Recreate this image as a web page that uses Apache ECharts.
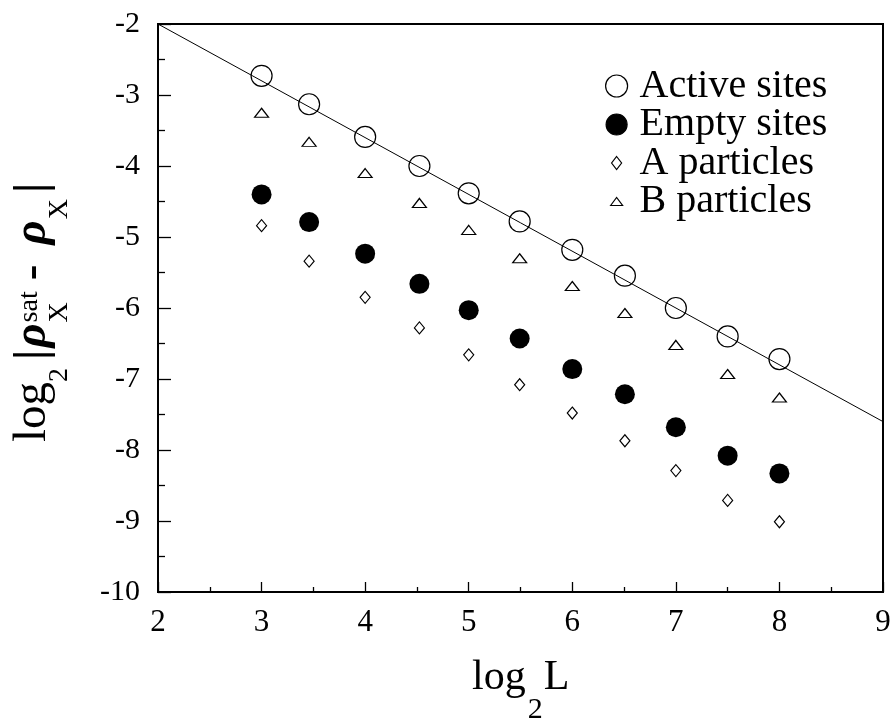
<!DOCTYPE html>
<html>
<head>
<meta charset="utf-8">
<script src="https://cdn.jsdelivr.net/npm/echarts@6/dist/echarts.min.js"></script>
<style>
html,body{margin:0;padding:0;background:#fff;}
#chart{width:896px;height:724px;}
</style>
</head>
<body>
<div id="chart"></div>
<script>
// ---- data ----
const logL        = [3, 3.459, 4, 4.524, 5, 5.492, 6, 6.508, 7, 7.5, 8];
const activeSites = [-2.73, -3.13, -3.59, -4.00, -4.385, -4.78, -5.18, -5.545, -6.00, -6.40, -6.72];
const emptySites  = [-4.40, -4.79, -5.235, -5.66, -6.03, -6.43, -6.86, -7.215, -7.68, -8.08, -8.33];
const aParticles  = [-4.84, -5.34, -5.85, -6.28, -6.66, -7.08, -7.48, -7.87, -8.29, -8.71, -9.01];
const bParticles  = [-3.25, -3.66, -4.10, -4.52, -4.90, -5.30, -5.69, -6.07, -6.52, -6.93, -7.26];
const fitLineX    = [2, 9];
const fitLineY    = [-2, -7.6];
const seriesNames = ['Active sites', 'Empty sites', 'A particles', 'B particles'];
const xRange = [2, 9];
const yRange = [-10, -2];

const FONT = '"Liberation Serif", "Times New Roman", serif';
const pairs = (xs, ys) => xs.map((x, i) => [x, ys[i]]);

// text layout helper for the axis titles (sub/superscripts)
const mctx = document.createElement('canvas').getContext('2d');
function fontStr(p){ return (p.style || '') + ' ' + p.fs + 'px ' + FONT; }
function buildTitle(pieces){
  const out = [];
  let u = 0;
  pieces.forEach(p => {
    u += (p.gap || 0);
    const f = fontStr(p);
    mctx.font = f;
    const w = mctx.measureText(p.t).width;
    out.push({
      type: 'text', x: u, y: (p.dy || 0) - 0.34 * p.fs, silent: true,
      style: { text: p.t, font: f, fill: '#000', align: 'left', textAlign: 'left',
               verticalAlign: 'middle', textVerticalAlign: 'middle' }
    });
    if (!p.stack) u += w;
  });
  return out;
}

const yTitlePieces = [
  { t: 'log', fs: 47 },
  { t: '2', fs: 28, dy: 20 },
  { t: '|', fs: 47, style: 'bold', gap: 8 },
  { t: 'ρ', fs: 47, style: 'italic bold', gap: 2 },
  { t: 'sat', fs: 28, dy: -10, stack: true, gap: 1 },
  { t: 'X', fs: 28, dy: 20 },
  { t: '-', fs: 47, style: 'bold', gap: 22 },
  { t: 'ρ', fs: 47, style: 'italic bold', gap: 20 },
  { t: 'X', fs: 28, dy: 20, gap: 1 },
  { t: '|', fs: 47, style: 'bold', gap: 6 }
];
const xTitlePieces = [
  { t: 'log', fs: 42 },
  { t: '2', fs: 30, dy: 28, gap: 2 },
  { t: 'L', fs: 42, gap: 1 }
];

const chart = echarts.init(document.getElementById('chart'), null, { renderer: 'canvas' });

const axisCommon = {
  type: 'value',
  axisLine: { show: true, onZero: false, lineStyle: { color: '#000', width: 2 } },
  splitLine: { show: false }
};

const option = {
  animation: false,
  backgroundColor: '#fff',
  grid: { left: 158, right: 13, top: 24, bottom: 132, show: true, borderColor: '#000', borderWidth: 2, backgroundColor: 'transparent' },
  xAxis: Object.assign({}, axisCommon, {
    min: xRange[0], max: xRange[1], interval: 1,
    axisTick: { inside: true, length: 10, lineStyle: { color: '#000', width: 1.3 } },
    minorTick: { show: true, splitNumber: 2, length: 5, lineStyle: { color: '#000', width: 1.3 } },
    axisLabel: { color: '#000', fontFamily: FONT, fontSize: 31, margin: 15 }
  }),
  yAxis: Object.assign({}, axisCommon, {
    min: yRange[0], max: yRange[1], interval: 1,
    axisTick: { inside: true, length: 13, lineStyle: { color: '#000', width: 1.3 } },
    minorTick: { show: true, splitNumber: 2, length: 7, lineStyle: { color: '#000', width: 1.3 } },
    axisLabel: { color: '#000', fontFamily: FONT, fontSize: 30, margin: 18 }
  }),
  legend: {
    orient: 'vertical', left: 593, top: 61, itemWidth: 36, itemHeight: 24, itemGap: -1.5,
    textStyle: { color: '#000', fontFamily: FONT, fontSize: 40, lineHeight: 30, padding: [0, 0, 8, 0] },
    itemStyle: { borderWidth: 1.2, opacity: 1 },
    data: [
      { name: seriesNames[0], icon: 'path://M0,0M36,24M7,12A11,11,0,1,1,29,12A11,11,0,1,1,7,12Z' },
      { name: seriesNames[1], icon: 'path://M0,0M36,24M7.5,12A10.5,10.5,0,1,1,28.5,12A10.5,10.5,0,1,1,7.5,12Z' },
      { name: seriesNames[2], icon: 'path://M0,0M36,24M18,5.5L23,12L18,18.5L13,12Z' },
      { name: seriesNames[3], icon: 'path://M0,0M36,24M12,16L18,8L24,16Z' }
    ]
  },
  graphic: [
    { type: 'group', x: 49, y: 442, rotation: Math.PI / 2, children: buildTitle(yTitlePieces) },
    { type: 'group', x: 472, y: 692, children: buildTitle(xTitlePieces) }
  ],
  series: [
    { type: 'line', name: 'fit', data: pairs(fitLineX, fitLineY), showSymbol: false, symbol: 'none',
      lineStyle: { color: '#000', width: 1 }, silent: true, z: 1 },
    { type: 'scatter', name: seriesNames[0], data: pairs(logL, activeSites), symbol: 'circle', symbolSize: 21,
      itemStyle: { color: 'rgba(0,0,0,0)', borderColor: '#000', borderWidth: 1.2, opacity: 1 }, z: 3 },
    { type: 'scatter', name: seriesNames[1], data: pairs(logL, emptySites), symbol: 'circle', symbolSize: 20,
      itemStyle: { color: '#000', borderColor: '#000', borderWidth: 0, opacity: 1 }, z: 3 },
    { type: 'scatter', name: seriesNames[2], data: pairs(logL, aParticles), symbol: 'diamond', symbolSize: [10, 12],
      itemStyle: { color: '#fff', borderColor: '#000', borderWidth: 1.2, opacity: 1 }, z: 3 },
    { type: 'scatter', name: seriesNames[3], data: pairs(logL, bParticles), symbol: 'triangle', symbolSize: [14, 9],
      itemStyle: { color: '#fff', borderColor: '#000', borderWidth: 1.2, opacity: 1 }, z: 3 }
  ]
};
chart.setOption(option);
</script>
</body>
</html>
